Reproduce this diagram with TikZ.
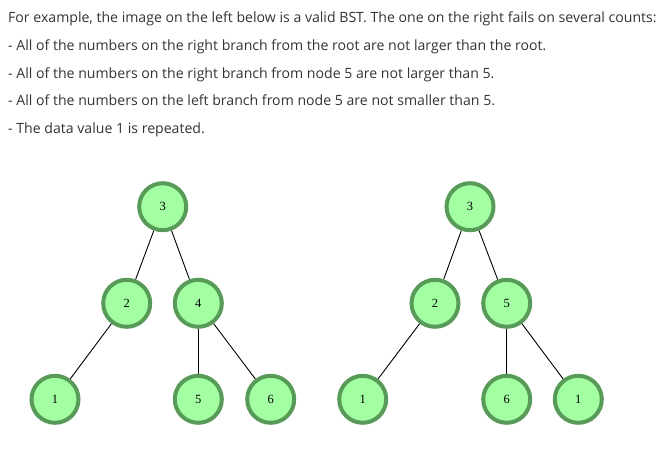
\documentclass[tikz,border=0pt]{standalone}
\usepackage{fontspec}
\setmainfont{Open Sans}
\newfontfamily\numfont{Liberation Serif}
\definecolor{txtgray}{HTML}{333333}
\definecolor{nodefill}{HTML}{A2FFA2}
\definecolor{nodeborder}{HTML}{589A58}
\begin{document}
\begin{tikzpicture}[x=1pt,y=-1pt,
  treenode/.style={circle,draw=nodeborder,fill=nodefill,line width=4pt,minimum size=47pt,inner sep=0pt,font=\numfont\fontsize{12.5}{14}\selectfont},
  txt/.style={anchor=base west,inner sep=0pt,text=txtgray,font=\fontsize{14.1}{16}\selectfont},
  edge/.style={draw=black,line width=0.9pt}]
\useasboundingbox (0,0) rectangle (665,452);
\node[txt] (t1) at (8,23) {For example, the image on the left below is a valid BST. The one on the right fails on several counts:};
\node[txt] (t2) at (8,51) {- All of the numbers on the right branch from the root are not larger than the root.};
\node[txt] (t3) at (8,78.5) {- All of the numbers on the right branch from node 5 are not larger than 5.};
\node[txt] (t4) at (8,106) {- All of the numbers on the left branch from node 5 are not smaller than 5.};
\node[txt] (t5) at (8,133.5) {- The data value 1 is repeated.};
% left tree
\node[treenode] (a3) at (162.7,206.7) {3};
\node[treenode] (a2) at (126.7,303.3) {2};
\node[treenode] (a4) at (198.3,303.3) {4};
\node[treenode] (a1) at (55,399.3) {1};
\node[treenode] (a5) at (198.3,399.3) {5};
\node[treenode] (a6) at (270.7,399.3) {6};
\draw[edge] (a3) -- (a2);
\draw[edge] (a3) -- (a4);
\draw[edge] (a2) -- (a1);
\draw[edge] (a4) -- (a5);
\draw[edge] (a4) -- (a6);
% right tree
\node[treenode] (b3) at (470,206.7) {3};
\node[treenode] (b2) at (435,303.3) {2};
\node[treenode] (b5) at (506.7,303.3) {5};
\node[treenode] (b1) at (362.7,399.3) {1};
\node[treenode] (b6) at (506.7,399.3) {6};
\node[treenode] (b1r) at (578.3,399.3) {1};
\draw[edge] (b3) -- (b2);
\draw[edge] (b3) -- (b5);
\draw[edge] (b2) -- (b1);
\draw[edge] (b5) -- (b6);
\draw[edge] (b5) -- (b1r);
\end{tikzpicture}
\end{document}
